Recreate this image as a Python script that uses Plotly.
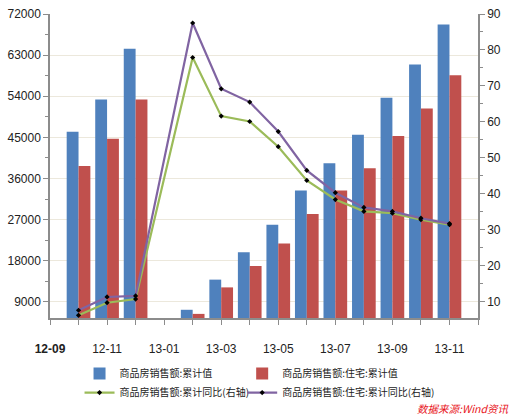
import plotly.graph_objects as go

all_months = ["12-09", "12-10", "12-11", "12-12", "13-01", "13-02", "13-03", "13-04",
              "13-05", "13-06", "13-07", "13-08", "13-09", "13-10", "13-11", "13-12"]
tick_labels = ["<b>12-09</b>", "", "12-11", "", "13-01", "", "13-03", "", "13-05", "",
               "13-07", "", "13-09", "", "13-11", ""]

months = ["12-10", "12-11", "12-12", "13-01", "13-02", "13-03", "13-04", "13-05",
          "13-06", "13-07", "13-08", "13-09", "13-10", "13-11"]
total = [46200, 53300, 64400, None, 7250, 13850, 19850, 25850, 33350, 39350, 45550, 53650, 60950, 69700]
resid = [38700, 44700, 53300, None, 6350, 12150, 16850, 21750, 28200, 33350, 38250, 45300, 51300, 58600]
total_yoy = [6.2, 9.7, 10.7, None, 77.9, 61.6, 60.1, 53.1, 43.7, 38.4, 35.1, 34.6, 32.8, 31.4]
resid_yoy = [7.6, 11.3, 11.6, None, 87.5, 69.2, 65.5, 57.3, 46.5, 40.3, 36.2, 35.1, 33.2, 31.7]

names = ["商品房销售额:累计值", "商品房销售额:住宅:累计值",
         "商品房销售额:累计同比(右轴)", "商品房销售额:住宅:累计同比(右轴)"]

NUM_FONT = "Liberation Sans Narrow, Liberation Sans, Arial"
CJK_FONT = "Noto Sans CJK SC, Noto Sans, sans-serif"

fig = go.Figure()
fig.add_trace(go.Bar(x=months, y=total, name=names[0], marker_color="#4F81BD",
                     marker_line_width=0, legend="legend"))
fig.add_trace(go.Bar(x=months, y=resid, name=names[1], marker_color="#C0504D",
                     marker_line_width=0, legend="legend2"))
fig.add_trace(go.Scatter(x=months, y=total_yoy, name=names[2], yaxis="y2", mode="lines+markers",
                         connectgaps=True, line=dict(color="#9BBB59", width=2.2),
                         marker=dict(symbol="diamond", size=4, color="black"), legend="legend"))
fig.add_trace(go.Scatter(x=months, y=resid_yoy, name=names[3], yaxis="y2", mode="lines+markers",
                         connectgaps=True, line=dict(color="#8064A2", width=2.2),
                         marker=dict(symbol="diamond", size=4, color="black"), legend="legend2"))

axis_col = "#8C8C8C"
fig.update_layout(
    width=515, height=418,
    margin=dict(l=44, r=37, t=7, b=100),
    paper_bgcolor="white", plot_bgcolor="white",
    barmode="group", bargap=0.17, bargroupgap=0,
    font=dict(family=NUM_FONT, size=12, color="#222"),
    xaxis=dict(type="category", categoryorder="array", categoryarray=all_months,
               range=[0, 15], tickmode="array", tickvals=all_months, ticktext=tick_labels,
               ticks="outside", ticklen=5, tickcolor=axis_col, showline=True,
               linecolor=axis_col, linewidth=2, showgrid=False, ticklabelstandoff=14,
               tickfont=dict(family=NUM_FONT, size=12, color="#222")),
    yaxis=dict(range=[5450, 72000], tickmode="linear", tick0=0, dtick=9000, tickformat="d",
               ticks="outside", ticklen=5, tickcolor=axis_col, showline=True,
               linecolor=axis_col, linewidth=1.5, showgrid=True, gridcolor="#ECE8DC",
               gridwidth=1, zeroline=False, tickfont=dict(family=NUM_FONT, size=12, color="#222"),
               minor=dict(ticks="outside", ticklen=3, tickcolor=axis_col, dtick=4500, tick0=0,
                          showgrid=False)),
    yaxis2=dict(range=[5.45, 90], overlaying="y", side="right", tickmode="linear",
                tick0=0, dtick=10, ticks="outside", ticklen=5, tickcolor=axis_col,
                showline=True, linecolor=axis_col, linewidth=1.5, showgrid=False,
                zeroline=False, tickfont=dict(family=NUM_FONT, size=12, color="#222"),
                minor=dict(ticks="outside", ticklen=3, tickcolor=axis_col, dtick=5, tick0=0,
                           showgrid=False)),
    legend=dict(x=0.069, y=-0.135, xanchor="left", yanchor="top", orientation="v",
                font=dict(family=CJK_FONT, size=10, color="#222"), bgcolor="rgba(0,0,0,0)",
                tracegroupgap=0, itemwidth=30),
    legend2=dict(x=0.449, y=-0.135, xanchor="left", yanchor="top", orientation="v",
                 font=dict(family=CJK_FONT, size=10, color="#222"), bgcolor="rgba(0,0,0,0)",
                 tracegroupgap=0, itemwidth=30),
    annotations=[dict(text="<i>数据来源:Wind资讯</i>", xref="paper", yref="paper",
                      x=(510 - 44) / 434, y=-(411 - 318.3) / 311, xanchor="right",
                      yanchor="middle", showarrow=False,
                      font=dict(family=CJK_FONT, size=10.5, color="#E8141B"))],
)

fig.write_html("out.html")
